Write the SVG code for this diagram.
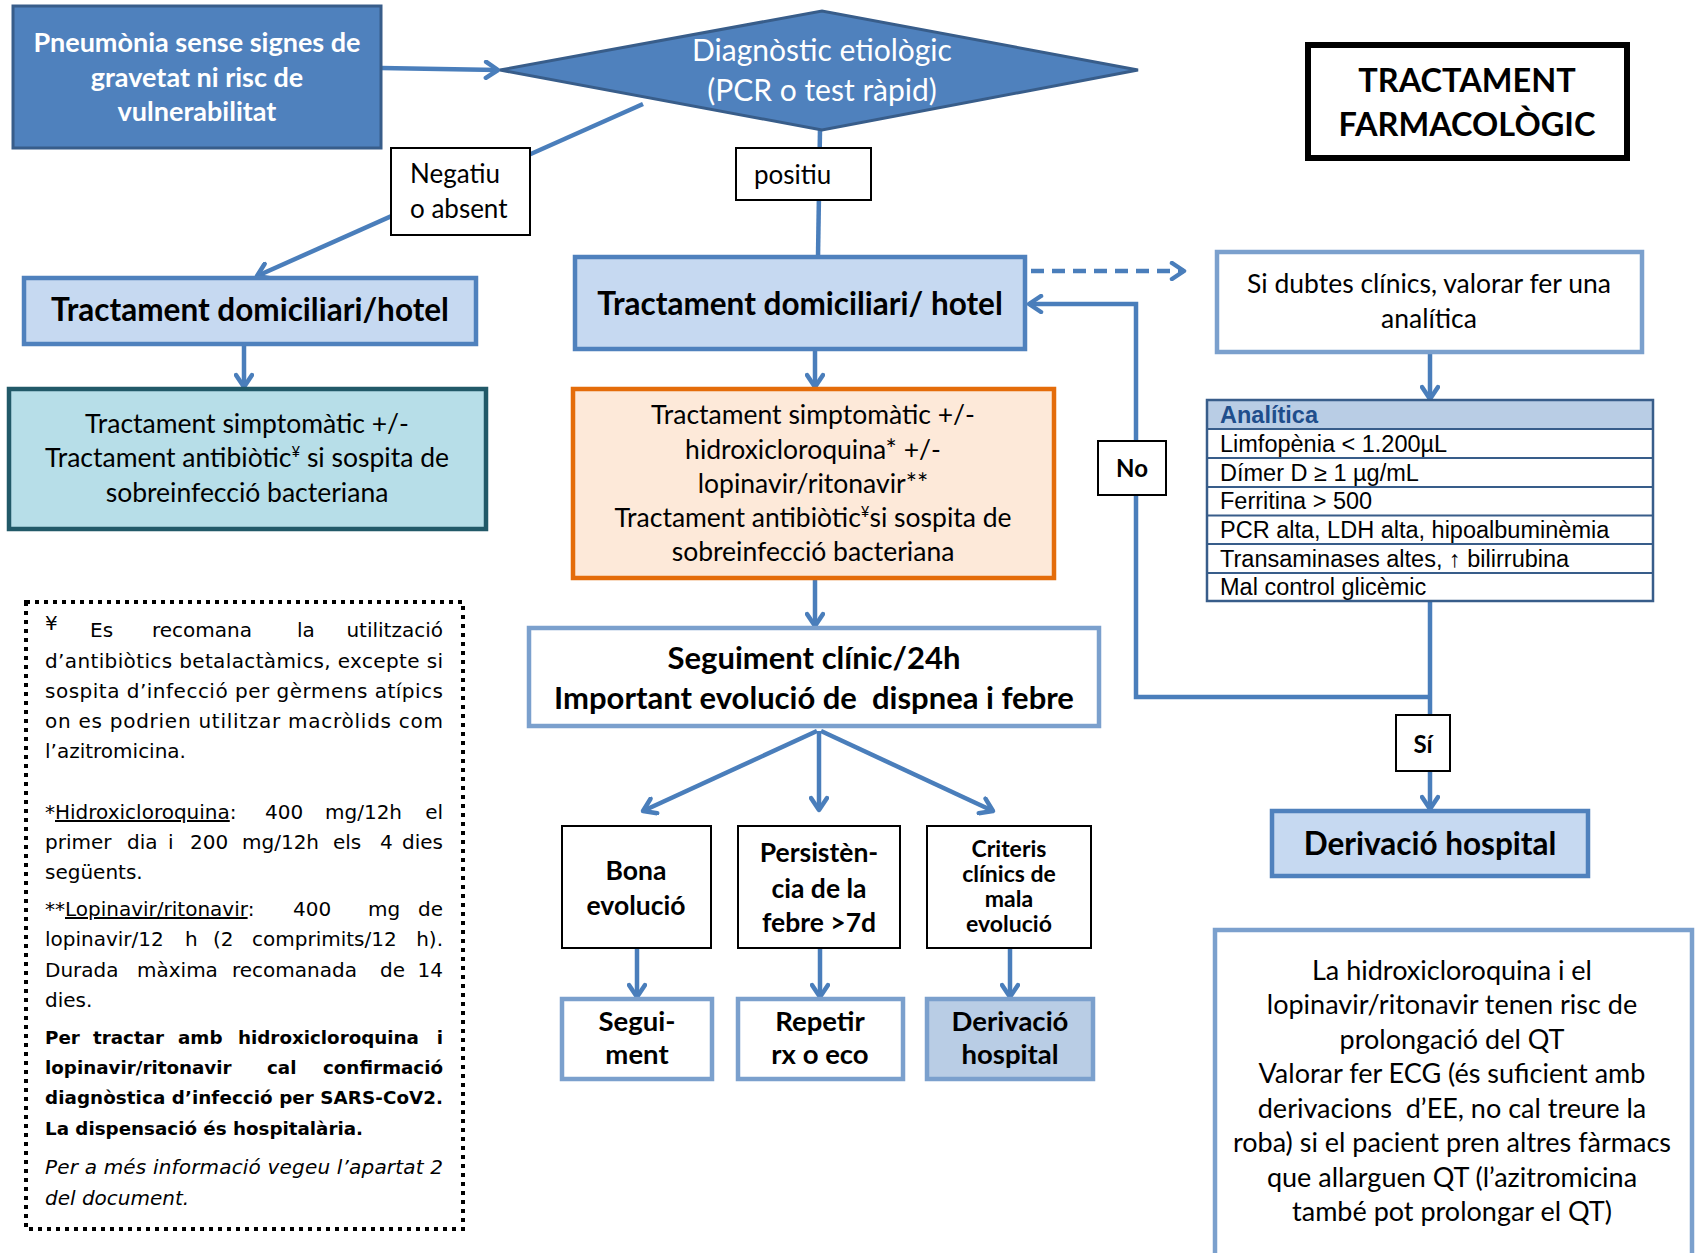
<svg xmlns="http://www.w3.org/2000/svg" width="1695" height="1253" viewBox="0 0 1695 1253">
<style>
text{font-family:Lato,"Open Sans","Liberation Sans",sans-serif;fill:#000}
.c{text-anchor:middle}
.b{font-weight:bold}
.w{fill:#fff}
.conn{fill:none;stroke:#4A7EBB;stroke-width:4.5}
.lbl{fill:#fff;stroke:#000;stroke-width:2}
.bl{fill:#C6D9F1;stroke:#4F81BD;stroke-width:4.5}
.lb{fill:#fff;stroke:#7BA0CD;stroke-width:4.5}
.sm{fill:#fff;stroke:#000;stroke-width:2}
.tab{font-family:"Liberation Sans",Arial,sans-serif;font-size:23.5px}
.note{font-family:"DejaVu Sans",Verdana,sans-serif;font-size:20px}
.nb{font-weight:bold;font-size:18.3px}
</style>
<defs>
<marker id="ah" viewBox="0 0 20 20" refX="17" refY="10" markerWidth="20" markerHeight="20" markerUnits="userSpaceOnUse" orient="auto">
<path d="M5,2 L17,10 L5,18" fill="none" stroke="#4A7EBB" stroke-width="4.5" stroke-linecap="round" stroke-linejoin="round"/>
</marker>
</defs>

<g id="connectors">
<line class="conn" x1="381" y1="68" x2="498" y2="70" marker-end="url(#ah)"/>
<line class="conn" x1="643" y1="104" x2="257" y2="276" marker-end="url(#ah)"/>
<line class="conn" x1="820" y1="130" x2="818" y2="257"/>
<line class="conn" x1="244" y1="344" x2="244" y2="387" marker-end="url(#ah)"/>
<line class="conn" x1="815" y1="349" x2="815" y2="387" marker-end="url(#ah)"/>
<line class="conn" x1="1031" y1="271" x2="1184" y2="271" stroke-dasharray="13 8" marker-end="url(#ah)"/>
<path class="conn" d="M1430,697 H1136 V304 H1029" marker-end="url(#ah)"/>
<line class="conn" x1="1430" y1="352" x2="1430" y2="399" marker-end="url(#ah)"/>
<line class="conn" x1="1430" y1="601" x2="1430" y2="809" marker-end="url(#ah)"/>
<line class="conn" x1="815" y1="578" x2="815" y2="626" marker-end="url(#ah)"/>
<line class="conn" x1="817" y1="731" x2="643" y2="811" marker-end="url(#ah)"/>
<line class="conn" x1="819" y1="731" x2="819" y2="810" marker-end="url(#ah)"/>
<line class="conn" x1="821" y1="731" x2="993" y2="811" marker-end="url(#ah)"/>
<line class="conn" x1="637" y1="948" x2="637" y2="997" marker-end="url(#ah)"/>
<line class="conn" x1="820" y1="948" x2="820" y2="997" marker-end="url(#ah)"/>
<line class="conn" x1="1010" y1="948" x2="1010" y2="997" marker-end="url(#ah)"/>
</g>

<g id="start">
<rect x="13" y="6" width="368" height="142" fill="#4F81BD" stroke="#385D8A" stroke-width="3"/>
<text class="c b w" x="197" y="52" font-size="27">Pneumònia sense signes de</text>
<text class="c b w" x="197" y="87" font-size="27">gravetat ni risc de</text>
<text class="c b w" x="197" y="121" font-size="27">vulnerabilitat</text>
</g>

<g id="diag">
<polygon points="500,70 822,11 1138,70 822,130" fill="#4F81BD" stroke="#385D8A" stroke-width="3"/>
<text class="c w" x="822" y="61" font-size="30">Diagnòstic etiològic</text>
<text class="c w" x="822" y="101" font-size="30">(PCR o test ràpid)</text>
</g>

<g id="lbl-neg">
<rect class="lbl" x="391" y="148" width="139" height="87"/>
<text x="410" y="183" font-size="26">Negatiu</text>
<text x="410" y="218" font-size="26">o absent</text>
</g>

<g id="lbl-pos">
<rect class="lbl" x="736" y="148" width="135" height="52"/>
<text x="754" y="184" font-size="26">positiu</text>
</g>

<g id="title">
<rect x="1308" y="45" width="319" height="113" fill="#fff" stroke="#000" stroke-width="6"/>
<text class="c b" x="1467" y="92" font-size="32.5">TRACTAMENT</text>
<text class="c b" x="1467" y="136" font-size="32.5">FARMACOLÒGIC</text>
</g>

<g id="dom-left">
<rect class="bl" x="24" y="278" width="452" height="66"/>
<text class="c b" x="250" y="321" font-size="31.5">Tractament domiciliari/hotel</text>
</g>

<g id="simpt-left">
<rect x="9" y="389" width="477" height="140" fill="#B7DEE8" stroke="#215968" stroke-width="4.5"/>
<text class="c" x="247" y="433" font-size="26.5">Tractament simptomàtic +/-</text>
<text class="c" x="247" y="467" font-size="26.5">Tractament antibiòtic<tspan font-size="15" dy="-10">¥</tspan><tspan dy="10"> si sospita de</tspan></text>
<text class="c" x="247" y="502" font-size="26.5">sobreinfecció bacteriana</text>
</g>

<g id="dom-center">
<rect class="bl" x="575" y="257" width="450" height="92"/>
<text class="c b" x="800" y="315" font-size="31.5">Tractament domiciliari/ hotel</text>
</g>

<g id="dubtes">
<rect class="lb" x="1217" y="252" width="425" height="100"/>
<text class="c" x="1429" y="293" font-size="26.5">Si dubtes clínics, valorar fer una</text>
<text class="c" x="1429" y="328" font-size="26.5">analítica</text>
</g>

<g id="lbl-no">
<rect class="lbl" x="1098" y="441" width="68" height="54"/>
<text class="c b" x="1132" y="477" font-size="24">No</text>
</g>

<g id="analitica">
<rect x="1207" y="400" width="446" height="29" fill="#B9CDE5"/>
<rect x="1207" y="400" width="446" height="201" fill="none" stroke="#385D8A" stroke-width="2.5"/>
<g stroke="#385D8A" stroke-width="2">
<line x1="1207" y1="429" x2="1653" y2="429"/>
<line x1="1207" y1="458" x2="1653" y2="458"/>
<line x1="1207" y1="487" x2="1653" y2="487"/>
<line x1="1207" y1="515.5" x2="1653" y2="515.5"/>
<line x1="1207" y1="544" x2="1653" y2="544"/>
<line x1="1207" y1="573" x2="1653" y2="573"/>
</g>
<text class="tab b" x="1220" y="423" style="fill:#1F4E8C">Analítica</text>
<text class="tab" x="1220" y="452">Limfopènia &lt; 1.200µL</text>
<text class="tab" x="1220" y="481">Dímer D ≥ 1 µg/mL</text>
<text class="tab" x="1220" y="509">Ferritina &gt; 500</text>
<text class="tab" x="1220" y="538">PCR alta, LDH alta, hipoalbuminèmia</text>
<text class="tab" x="1220" y="567">Transaminases altes, ↑ bilirrubina</text>
<text class="tab" x="1220" y="595">Mal control glicèmic</text>
</g>

<g id="lbl-si">
<rect class="lbl" x="1396" y="715" width="54" height="56"/>
<text class="c b" x="1423" y="753" font-size="24">Sí</text>
</g>

<g id="deriv-right">
<rect class="bl" x="1272" y="811" width="316" height="65"/>
<text class="c b" x="1430" y="855" font-size="31.5">Derivació hospital</text>
</g>

<g id="simpt-center">
<rect x="573" y="389" width="481" height="189" fill="#FDE9D9" stroke="#E46C0A" stroke-width="4.5"/>
<text class="c" x="813" y="424" font-size="26.5">Tractament simptomàtic +/-</text>
<text class="c" x="813" y="459" font-size="26.5">hidroxicloroquina* +/-</text>
<text class="c" x="813" y="493" font-size="26.5">lopinavir/ritonavir**</text>
<text class="c" x="813" y="527" font-size="26.5">Tractament antibiòtic<tspan font-size="15" dy="-10">¥</tspan><tspan dy="10">si sospita de</tspan></text>
<text class="c" x="813" y="561" font-size="26.5">sobreinfecció bacteriana</text>
</g>

<g id="seguiment">
<rect class="lb" x="529" y="628" width="570" height="98"/>
<text class="c b" x="814" y="669" font-size="31">Seguiment clínic/24h</text>
<text class="c b" x="814" y="709" font-size="31" xml:space="preserve">Important evolució de  dispnea i febre</text>
</g>

<g id="bona">
<rect class="sm" x="562" y="826" width="149" height="122"/>
<text class="c b" x="636" y="880" font-size="26.5">Bona</text>
<text class="c b" x="636" y="915" font-size="26.5">evolució</text>
</g>

<g id="persist">
<rect class="sm" x="738" y="826" width="162" height="122"/>
<text class="c b" x="819" y="862" font-size="26.5">Persistèn-</text>
<text class="c b" x="819" y="898" font-size="26.5">cia de la</text>
<text class="c b" x="819" y="932" font-size="26.5">febre &gt;7d</text>
</g>

<g id="criteris">
<rect class="sm" x="927" y="826" width="164" height="122"/>
<text class="c b" x="1009" y="857" font-size="23">Criteris</text>
<text class="c b" x="1009" y="882" font-size="23">clínics de</text>
<text class="c b" x="1009" y="907" font-size="23">mala</text>
<text class="c b" x="1009" y="932" font-size="23">evolució</text>
</g>

<g id="segui">
<rect class="lb" x="562" y="999" width="150" height="80"/>
<text class="c b" x="637" y="1031" font-size="27.5">Segui-</text>
<text class="c b" x="637" y="1064" font-size="27.5">ment</text>
</g>

<g id="repetir">
<rect class="lb" x="738" y="999" width="165" height="80"/>
<text class="c b" x="820" y="1031" font-size="27.5">Repetir</text>
<text class="c b" x="820" y="1064" font-size="27.5">rx o eco</text>
</g>

<g id="deriv-bottom">
<rect x="927" y="999" width="166" height="80" fill="#B9CDE5" stroke="#7BA0CD" stroke-width="4.5"/>
<text class="c b" x="1010" y="1031" font-size="27.5">Derivació</text>
<text class="c b" x="1010" y="1064" font-size="27.5">hospital</text>
</g>

<g id="qt">
<rect class="lb" x="1215" y="930" width="477" height="340"/>
<text class="c" x="1452" y="980" font-size="27">La hidroxicloroquina i el</text>
<text class="c" x="1452" y="1014" font-size="27">lopinavir/ritonavir tenen risc de</text>
<text class="c" x="1452" y="1049" font-size="27">prolongació del QT</text>
<text class="c" x="1452" y="1083" font-size="27">Valorar fer ECG (és suficient amb</text>
<text class="c" x="1452" y="1118" font-size="27" xml:space="preserve">derivacions  d’EE, no cal treure la</text>
<text class="c" x="1452" y="1152" font-size="27">roba) si el pacient pren altres fàrmacs</text>
<text class="c" x="1452" y="1187" font-size="27">que allarguen QT (l’azitromicina</text>
<text class="c" x="1452" y="1221" font-size="27">també pot prolongar el QT)</text>
</g>

<g id="notes">
<rect x="26" y="602" width="437" height="627" fill="#fff" stroke="#000" stroke-width="4" stroke-dasharray="4 5"/>
<text class="note" x="45" y="630" font-size="12">¥</text>
<text class="note" x="90" y="637">Es</text>
<text class="note" x="152" y="637">recomana</text>
<text class="note" x="297" y="637">la</text>
<text class="note" x="443" y="637" text-anchor="end">utilització</text>
<text class="note" x="45" y="668" textLength="398" lengthAdjust="spacing">d’antibiòtics betalactàmics, excepte si</text>
<text class="note" x="45" y="698" textLength="398" lengthAdjust="spacing">sospita d’infecció per gèrmens atípics</text>
<text class="note" x="45" y="728" textLength="398" lengthAdjust="spacing">on es podrien utilitzar macròlids com</text>
<text class="note" x="45" y="758">l’azitromicina.</text>

<text class="note" x="45" y="819">*<tspan text-decoration="underline">Hidroxicloroquina</tspan>:</text>
<text class="note" x="265" y="819">400</text>
<text class="note" x="325" y="819">mg/12h</text>
<text class="note" x="443" y="819" text-anchor="end">el</text>
<text class="note" x="45" y="849">primer</text>
<text class="note" x="127" y="849">dia</text>
<text class="note" x="168" y="849">i</text>
<text class="note" x="190" y="849">200</text>
<text class="note" x="242" y="849">mg/12h</text>
<text class="note" x="333" y="849">els</text>
<text class="note" x="380" y="849">4</text>
<text class="note" x="443" y="849" text-anchor="end">dies</text>
<text class="note" x="45" y="879">següents.</text>

<text class="note" x="45" y="916">**<tspan text-decoration="underline">Lopinavir/ritonavir</tspan>:</text>
<text class="note" x="293" y="916">400</text>
<text class="note" x="368" y="916">mg</text>
<text class="note" x="443" y="916" text-anchor="end">de</text>
<text class="note" x="45" y="946">lopinavir/12</text>
<text class="note" x="185" y="946">h</text>
<text class="note" x="213" y="946">(2</text>
<text class="note" x="252" y="946">comprimits/12</text>
<text class="note" x="443" y="946" text-anchor="end">h).</text>
<text class="note" x="45" y="977">Durada</text>
<text class="note" x="137" y="977">màxima</text>
<text class="note" x="232" y="977">recomanada</text>
<text class="note" x="380" y="977">de</text>
<text class="note" x="443" y="977" text-anchor="end">14</text>
<text class="note" x="45" y="1007">dies.</text>

<text class="note nb" x="45" y="1044">Per</text>
<text class="note nb" x="93" y="1044">tractar</text>
<text class="note nb" x="178" y="1044">amb</text>
<text class="note nb" x="238" y="1044">hidroxicloroquina</text>
<text class="note nb" x="443" y="1044" text-anchor="end">i</text>
<text class="note nb" x="45" y="1074">lopinavir/ritonavir</text>
<text class="note nb" x="267" y="1074">cal</text>
<text class="note nb" x="443" y="1074" text-anchor="end">confirmació</text>
<text class="note nb" x="45" y="1104" textLength="398" lengthAdjust="spacing">diagnòstica d’infecció per SARS-CoV2.</text>
<text class="note nb" x="45" y="1135">La dispensació és hospitalària.</text>

<text class="note" x="45" y="1174" font-style="italic" textLength="398" lengthAdjust="spacing">Per a més informació vegeu l’apartat 2</text>
<text class="note" x="45" y="1205" font-style="italic">del document.</text>
</g>
</svg>
